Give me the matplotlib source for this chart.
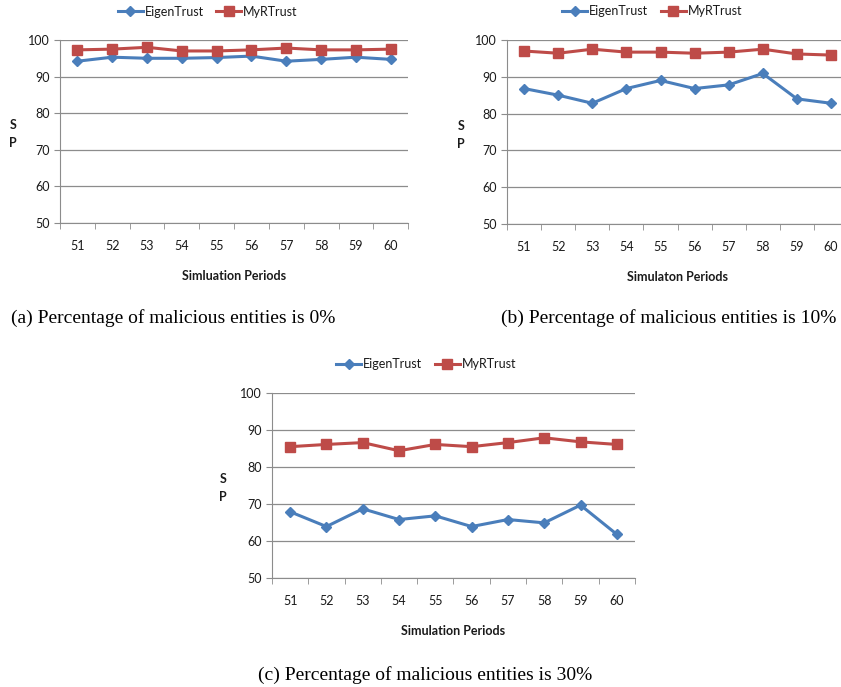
import matplotlib.pyplot as plt
import numpy as np

plt.rcParams['font.family'] = ['Lato', 'DejaVu Sans']

periods = [51, 52, 53, 54, 55, 56, 57, 58, 59, 60]

# (a) 0% malicious
eigen_a = [94.2, 95.3, 95.0, 95.0, 95.2, 95.6, 94.2, 94.7, 95.3, 94.7]
myr_a = [97.3, 97.5, 98.0, 97.0, 97.0, 97.3, 97.8, 97.3, 97.3, 97.5]

# (b) 10% malicious
eigen_b = [86.8, 85.0, 82.8, 86.8, 89.0, 86.8, 87.8, 90.9, 84.0, 82.8]
myr_b = [97.0, 96.4, 97.5, 96.7, 96.7, 96.4, 96.7, 97.5, 96.2, 95.9]

# (c) 30% malicious
eigen_c = [67.9, 63.9, 68.7, 65.8, 66.8, 63.9, 65.8, 64.9, 69.7, 61.8]
myr_c = [85.5, 86.1, 86.6, 84.4, 86.1, 85.5, 86.6, 87.9, 86.8, 86.1]

xlabels = ["Simluation Periods", "Simulaton Periods", "Simulation Periods"]
captions = ["(a) Percentage of malicious entities is 0%",
            "(b) Percentage of malicious entities is 10%",
            "(c) Percentage of malicious entities is 30%"]

blue = '#4a7ebb'
red = '#be4b48'
grid_col = '#8c8c8c'
txt = '#1a1a1a'

fig = plt.figure(figsize=(8.41, 6.87), dpi=100)

boxes = [[0.0713, 0.6754, 0.414, 0.2664],
         [0.6029, 0.674, 0.4055, 0.2678],
         [0.3234, 0.1587, 0.4316, 0.2692]]
data = [(eigen_a, myr_a), (eigen_b, myr_b), (eigen_c, myr_c)]


def draw(ax, eigen, myr, xlabel):
    ax.plot(periods, eigen, color=blue, lw=2.2, marker='D', ms=5.5, label='EigenTrust')
    ax.plot(periods, myr, color=red, lw=2.2, marker='s', ms=7.5, label='MyRTrust')
    ax.set_xlim(50.5, 60.5)
    ax.set_ylim(50, 100)
    ax.set_yticks(np.arange(50, 101, 10))
    ax.set_xticks(periods)
    ax.set_xticks(np.arange(50.5, 61, 1), minor=True)
    ax.tick_params(axis='x', which='major', length=0, pad=12, labelsize=9,
                   labelcolor=txt)
    ax.tick_params(axis='x', which='minor', length=4, color=grid_col)
    ax.tick_params(axis='y', length=4, color=grid_col, labelsize=9,
                   labelcolor=txt)
    for s in ['top', 'right']:
        ax.spines[s].set_visible(False)
    for s in ['left', 'bottom']:
        ax.spines[s].set_color(grid_col)
    ax.grid(axis='y', color=grid_col, lw=0.9)
    ax.set_axisbelow(True)
    ax.set_xlabel(xlabel, fontsize=9, fontweight='bold', labelpad=13, color=txt)
    ax.text(-0.135, 0.535, 'S', transform=ax.transAxes, fontsize=9,
            fontweight='bold', ha='center', va='center', color=txt)
    ax.text(-0.135, 0.437, 'P', transform=ax.transAxes, fontsize=9,
            fontweight='bold', ha='center', va='center', color=txt)
    ax.legend(loc='center', bbox_to_anchor=(0.425, 1.155), ncol=2, frameon=False,
              fontsize=9, handlelength=2.0, columnspacing=1.0, handletextpad=0.15,
              labelcolor=txt)


for box, (e, m), xl in zip(boxes, data, xlabels):
    ax = fig.add_axes(box)
    draw(ax, e, m, xl)

fig.text(173 / 841, 1 - 318 / 687, captions[0], family='Liberation Serif',
         fontsize=14, ha='center', va='center')
fig.text(669 / 841, 1 - 318 / 687, captions[1], family='Liberation Serif',
         fontsize=14, ha='center', va='center')
fig.text(425 / 841, 1 - 675 / 687, captions[2], family='Liberation Serif',
         fontsize=14, ha='center', va='center')

fig.savefig('out.png', dpi=100)
